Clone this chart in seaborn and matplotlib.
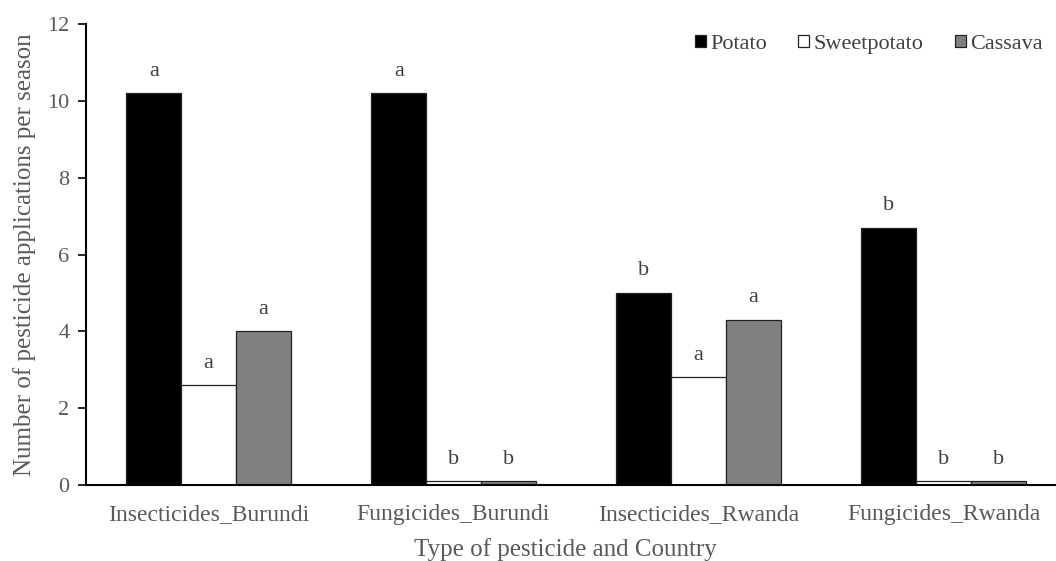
import matplotlib
matplotlib.use('Agg')
import matplotlib.pyplot as plt
import seaborn as sns
import pandas as pd

# values
categories = ['Insecticides_Burundi', 'Fungicides_Burundi', 'Insecticides_Rwanda', 'Fungicides_Rwanda']
crops = ['Potato', 'Sweetpotato', 'Cassava']
potato = [10.2, 10.2, 5.0, 6.7]
sweetpotato = [2.6, 0.1, 2.8, 0.1]
cassava = [4.0, 0.1, 4.3, 0.1]
letters_potato = ['a', 'a', 'b', 'b']
letters_sweetpotato = ['a', 'b', 'a', 'b']
letters_cassava = ['a', 'b', 'a', 'b']

df = pd.DataFrame({
    'category': categories * 3,
    'crop': [c for c in crops for _ in categories],
    'value': potato + sweetpotato + cassava,
})

sns.set_style('white')
plt.rcParams['font.family'] = ['Liberation Serif', 'DejaVu Serif']

fig = plt.figure(figsize=(10.56, 5.61), dpi=100)
# the category axis runs a little past the right edge of the picture, as in the reference
ax = fig.add_axes([86 / 1056, 76 / 561, 980 / 1056, 461 / 561])

palette = {'Potato': '#000000', 'Sweetpotato': '#ffffff', 'Cassava': '#808080'}
sns.barplot(data=df, x='category', y='value', hue='crop', order=categories,
            hue_order=crops, palette=palette, width=0.67, gap=0,
            edgecolor='#222222', linewidth=0.9, ax=ax, errorbar=None)

for cont, labs in zip(ax.containers, [letters_potato, letters_sweetpotato, letters_cassava]):
    ax.bar_label(cont, labels=labs, padding=9, fontsize=16, color='#404040')

ax.set_ylim(0, 12)
ax.set_yticks(range(0, 13, 2))
ax.set_xlim(-0.5, 3.5)
ax.tick_params(axis='y', direction='out', length=6, width=1.2, color='black',
               labelsize=16, labelcolor='#595959', pad=6, left=True)
ax.tick_params(axis='x', length=0, labelsize=17, labelcolor='#595959', pad=14)

for side in ['top', 'right']:
    ax.spines[side].set_visible(False)
for side in ['left', 'bottom']:
    ax.spines[side].set_color('black')
    ax.spines[side].set_linewidth(1.5)

ax.set_xlabel('Type of pesticide and Country', fontsize=18, color='#595959', labelpad=6)
ax.xaxis.set_label_coords((565 - 86) / 980, -0.115)
ax.set_ylabel('Number of pesticide applications per season', fontsize=18, color='#595959', labelpad=8)

leg = ax.legend(loc='upper right', bbox_to_anchor=((1043 - 86) / 980, 0.977), ncol=3, frameon=False,
                fontsize=16, handlelength=0.5, handleheight=0.5, handletextpad=0.2,
                columnspacing=1.4, borderpad=0, borderaxespad=0)
for t in leg.get_texts():
    t.set_color('#404040')

fig.savefig('out.png', dpi=100)
